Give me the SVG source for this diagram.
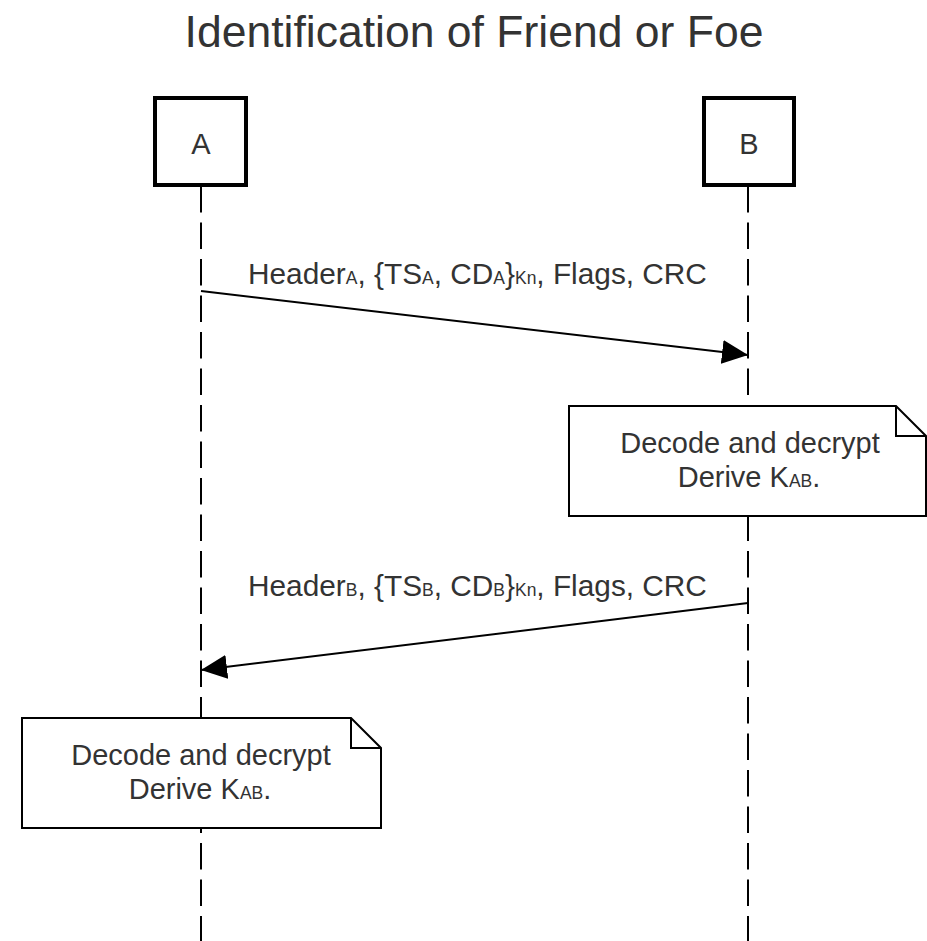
<svg xmlns="http://www.w3.org/2000/svg" width="927" height="941" viewBox="0 0 927 941">
  <style>
    text { font-family: "Liberation Sans", Arial, sans-serif; fill: #333333; }
    .title { font-size: 44.5px; }
    .lbl { font-size: 29px; }
    .msgtxt { font-size: 29.8px; }
    .sub { font-size: 17.5px; }
    .actor { fill: #ffffff; stroke: #000000; stroke-width: 4; }
    .life { stroke: #000000; stroke-width: 2; stroke-dasharray: 26.5 10; fill: none; }
    .msg { stroke: #000000; stroke-width: 2; fill: none; }
    .note { fill: #ffffff; stroke: #000000; stroke-width: 2; }
    .fold { fill: none; stroke: #000000; stroke-width: 2; }
  </style>
  <defs>
    <marker id="head" markerWidth="28" markerHeight="24" refX="26" refY="12" orient="auto" markerUnits="userSpaceOnUse">
      <path d="M0,0 L26,12 L0,24 Z" fill="#000000"/>
    </marker>
  </defs>
  <rect width="927" height="941" fill="#ffffff"/>

  <text class="title" x="474" y="47" text-anchor="middle">Identification of Friend or Foe</text>

  <!-- lifelines and messages -->
  <g id="connectors">
    <line class="life" x1="201" y1="186" x2="201" y2="941"/>
    <line class="life" x1="748" y1="186" x2="748" y2="941"/>
    <line class="msg" x1="201" y1="291" x2="748" y2="355" marker-end="url(#head)"/>
    <line class="msg" x1="748" y1="603" x2="201" y2="670" marker-end="url(#head)"/>
    <text class="msgtxt" x="248" y="284">Header<tspan class="sub">A</tspan>, {TS<tspan class="sub">A</tspan>, CD<tspan class="sub">A</tspan>}<tspan class="sub">Kn</tspan>, Flags, CRC</text>
    <text class="msgtxt" x="248" y="596">Header<tspan class="sub">B</tspan>, {TS<tspan class="sub">B</tspan>, CD<tspan class="sub">B</tspan>}<tspan class="sub">Kn</tspan>, Flags, CRC</text>
  </g>

  <g id="actorA">
    <rect class="actor" x="155" y="98" width="91" height="87"/>
    <text class="lbl" x="201" y="154" text-anchor="middle">A</text>
  </g>
  <g id="actorB">
    <rect class="actor" x="704" y="98" width="90" height="87"/>
    <text class="lbl" x="749" y="154" text-anchor="middle">B</text>
  </g>

  <g id="noteB">
    <path class="note" d="M569,406 H896 L926,436 V516 H569 Z"/>
    <path class="fold" d="M896,406 V436 H926"/>
    <text class="lbl" x="750" y="453" text-anchor="middle">Decode and decrypt</text>
    <text class="lbl" x="749" y="487" text-anchor="middle">Derive K<tspan class="sub">AB</tspan>.</text>
  </g>

  <g id="noteA">
    <path class="note" d="M22,718 H351 L381,748 V828 H22 Z"/>
    <path class="fold" d="M351,718 V748 H381"/>
    <text class="lbl" x="201" y="765" text-anchor="middle">Decode and decrypt</text>
    <text class="lbl" x="200" y="799" text-anchor="middle">Derive K<tspan class="sub">AB</tspan>.</text>
  </g>
</svg>
